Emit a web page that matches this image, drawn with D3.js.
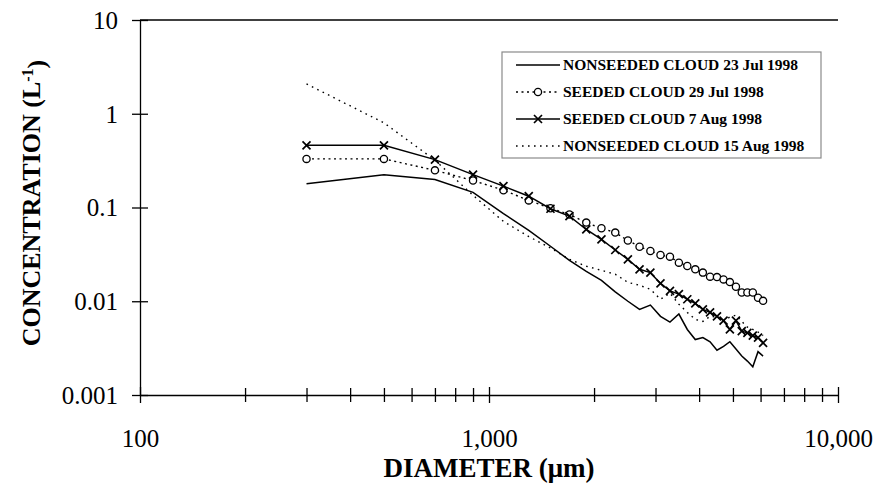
<!DOCTYPE html>
<html>
<head>
<meta charset="utf-8">
<script src="https://cdn.jsdelivr.net/npm/d3@7/dist/d3.min.js"></script>
<style>
  body { margin: 0; background: #fff; }
  svg { display: block; }
  text { font-family: "Liberation Serif", "Times New Roman", serif; fill: #000; }
</style>
</head>
<body>
<svg id="chart" width="876" height="491"></svg>
<script>
// Particle diameter bins (µm)
const diameters = [300, 500, 700, 900, 1100, 1300, 1500, 1700, 1900, 2100,
  2300, 2500, 2700, 2900, 3100, 3300, 3500, 3700, 3900, 4100,
  4300, 4500, 4700, 4900, 5100, 5300, 5500, 5700, 5900, 6100];

// Concentrations (L^-1) per cloud
const nonseeded23Jul = [0.179, 0.224, 0.199, 0.145, 0.086, 0.057, 0.0386, 0.0273, 0.0208, 0.0167,
  0.0126, 0.0100, 0.0082, 0.0091, 0.0069, 0.0060, 0.0073, 0.0050, 0.0039, 0.0041,
  0.0037, 0.0030, 0.0033, 0.0037, 0.0031, 0.0026, 0.0023, 0.0020, 0.0029, 0.0026];
const seeded29Jul = [0.33, 0.33, 0.249, 0.194, 0.153, 0.119, 0.098, 0.0843, 0.069, 0.060,
  0.054, 0.0445, 0.0382, 0.0343, 0.0311, 0.0299, 0.0258, 0.0238, 0.0219, 0.0202,
  0.0183, 0.0181, 0.0171, 0.0160, 0.0143, 0.0124, 0.0124, 0.0124, 0.0109, 0.0101];
const seeded7Aug = [0.46, 0.46, 0.324, 0.224, 0.169, 0.132, 0.097, 0.081, 0.0583, 0.0457,
  0.0352, 0.028, 0.0219, 0.0202, 0.0155, 0.0129, 0.0119, 0.0105, 0.0095, 0.0082,
  0.0076, 0.0069, 0.0062, 0.0050, 0.0062, 0.0048, 0.0046, 0.0043, 0.0041, 0.0036];
const nonseeded15Aug = [2.08, 0.80, 0.32, 0.135, 0.071, 0.049, 0.037, 0.028, 0.0236, 0.0214,
  0.0194, 0.0159, 0.0148, 0.0134, 0.0105, 0.0122, 0.0093, 0.0076, 0.0064, 0.0061,
  0.0069, 0.0068, 0.0061, 0.0068, 0.0071, 0.0061, 0.0053, 0.0050, 0.0047, 0.0043];

const seriesNames = ["NONSEEDED CLOUD 23 Jul 1998", "SEEDED CLOUD 29 Jul 1998",
  "SEEDED CLOUD 7 Aug 1998", "NONSEEDED CLOUD 15 Aug 1998"];

// Axis ticks
const yTickValues = [0.001, 0.01, 0.1, 1, 10];
const yTickLabels = ["0.001", "0.01", "0.1", "1", "10"];
const xMajorValues = [100, 1000, 10000];
const xTickLabels = ["100", "1,000", "10,000"];
const xMinorValues = [200, 300, 400, 500, 600, 700, 800, 900,
  2000, 3000, 4000, 5000, 6000, 7000, 8000, 9000];

const svg = d3.select("#chart");
const plotLeft = 140, plotRight = 838, plotTop = 20, plotBottom = 395;

const x = d3.scaleLog().domain([100, 10000]).range([plotLeft, plotRight]);
const y = d3.scaleLog().domain([0.001, 10]).range([plotBottom, plotTop]);

// top frame line
svg.append("line")
  .attr("x1", plotLeft).attr("x2", plotRight).attr("y1", plotTop).attr("y2", plotTop)
  .attr("stroke", "#000").attr("stroke-width", 1.3);

// x axis (ticks cross the axis line)
const xAxis = svg.append("g").attr("transform", `translate(0,${plotBottom})`)
  .call(d3.axisBottom(x).tickValues(xMajorValues.concat(xMinorValues))
    .tickSizeOuter(0)
    .tickFormat(d => { const i = xMajorValues.indexOf(d); return i >= 0 ? xTickLabels[i] : ""; }));
xAxis.select(".domain").attr("stroke-width", 1.3);
xAxis.selectAll(".tick line")
  .attr("y1", d => xMajorValues.includes(d) ? -8 : -7)
  .attr("y2", d => xMajorValues.includes(d) ? 8 : 7)
  .attr("stroke-width", 1.3);
xAxis.selectAll(".tick text")
  .attr("y", 52).attr("dy", null)
  .style("font-family", "Liberation Serif, serif").style("font-size", "25px");

// y axis
const yAxis = svg.append("g").attr("transform", `translate(${plotLeft},0)`)
  .call(d3.axisLeft(y).tickValues(yTickValues).tickSizeOuter(0)
    .tickFormat((d, i) => yTickLabels[i]));
yAxis.select(".domain").attr("stroke-width", 1.3);
yAxis.selectAll(".tick line").attr("x1", -8).attr("x2", 8).attr("stroke-width", 1.3);
yAxis.selectAll(".tick text")
  .attr("x", -22).attr("dy", "0.33em")
  .style("font-family", "Liberation Serif, serif").style("font-size", "25px");

// axis titles
svg.append("text")
  .attr("x", (plotLeft + plotRight) / 2).attr("y", 477)
  .attr("text-anchor", "middle")
  .style("font-weight", "bold").style("font-size", "27px")
  .text("DIAMETER (μm)");

const yTitle = svg.append("text")
  .attr("transform", `translate(40,203) rotate(-90)`)
  .attr("text-anchor", "middle")
  .style("font-weight", "bold").style("font-size", "26px");
yTitle.append("tspan").text("CONCENTRATION (L");
yTitle.append("tspan").attr("dy", "-0.45em").style("font-size", "16px").text("-1");
yTitle.append("tspan").attr("dy", "0.45em").text(")");

// series
const line = d3.line().x(d => x(d[0])).y(d => y(d[1]));
const zip = vals => diameters.map((d, i) => [d, vals[i]]);

const styles = [
  { values: nonseeded23Jul, dash: null, width: 1.5, marker: null },
  { values: seeded29Jul, dash: "2,3.5", width: 1.4, marker: "circle" },
  { values: seeded7Aug, dash: null, width: 1.5, marker: "cross" },
  { values: nonseeded15Aug, dash: "1.6,4.4", width: 1.4, marker: null }
];

function drawMarker(g, kind, cx, cy) {
  if (kind === "circle") {
    g.append("circle").attr("cx", cx).attr("cy", cy).attr("r", 3.6)
      .attr("fill", "#fff").attr("stroke", "#000").attr("stroke-width", 1.3);
  } else if (kind === "cross") {
    const s = 4;
    g.append("path")
      .attr("d", `M${cx - s},${cy - s}L${cx + s},${cy + s}M${cx - s},${cy + s}L${cx + s},${cy - s}`)
      .attr("stroke", "#000").attr("stroke-width", 1.7).attr("fill", "none");
  }
}

// draw lines from back to front
[3, 0, 1, 2].forEach(k => {
  const s = styles[k];
  const g = svg.append("g");
  g.append("path").datum(zip(s.values))
    .attr("d", line)
    .attr("fill", "none").attr("stroke", "#000")
    .attr("stroke-width", s.width)
    .attr("stroke-dasharray", s.dash);
  if (s.marker) {
    zip(s.values).forEach(p => drawMarker(g, s.marker, x(p[0]), y(p[1])));
  }
});

// legend
const lg = svg.append("g");
lg.append("rect").attr("x", 502).attr("y", 52).attr("width", 319).attr("height", 106)
  .attr("fill", "#fff").attr("stroke", "#8a8a8a").attr("stroke-width", 1.2);
const rowY = [65, 92, 119, 146];
seriesNames.forEach((name, i) => {
  const s = styles[i];
  const ry = rowY[i];
  lg.append("line").attr("x1", 516).attr("x2", 560).attr("y1", ry).attr("y2", ry)
    .attr("stroke", "#000").attr("stroke-width", s.width).attr("stroke-dasharray", s.dash);
  if (s.marker) drawMarker(lg, s.marker, 538, ry);
  lg.append("text").attr("x", 563).attr("y", ry).attr("dy", "0.35em")
    .style("font-weight", "bold").style("font-size", "15.5px")
    .text(name);
});
</script>
</body>
</html>
